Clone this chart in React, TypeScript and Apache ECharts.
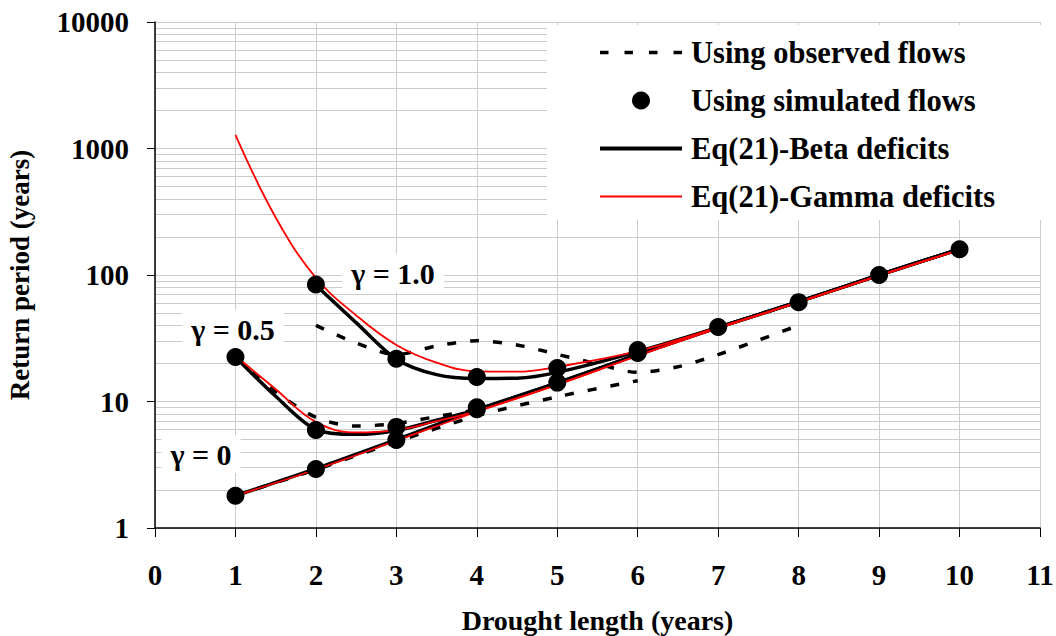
import React, { useEffect, useRef } from "react";
import * as echarts from "echarts";

const FONT = "'Liberation Serif', 'Times New Roman', serif";

// Observed flows (dashed)
const obsG0: [number, number][] = [[1, 1.8], [2, 2.9], [3, 4.8], [4, 7.7], [5, 10.9], [6, 14.6]];
const obsG05: [number, number][] = [[1, 22.5], [1.5, 12], [2, 7.5], [2.5, 6.4], [3, 6.7], [3.5, 7.6], [4, 8.6]];
const obsG1: [number, number][] = [[2, 40], [2.5, 29], [3, 23.5], [3.5, 27.5], [4, 30.2], [4.5, 28], [5, 23.6], [5.5, 19.8], [6, 17], [6.5, 18.8], [7, 23.5], [7.5, 30.5], [8, 40]];

// Simulated flows (dots)
const simPoints: [number, number][] = [
  [1, 1.8], [2, 2.93], [3, 4.96], [4, 8.7], [5, 14.1], [6, 24.2], [7, 38.8], [8, 61], [9, 100], [10, 160],
  [1, 22.5], [2, 5.95], [3, 6.3], [4, 9.0],
  [2, 84], [3, 21.8], [4, 15.6], [5, 18.4], [6, 25.5],
];

// Eq(21) - Beta deficits (thick black)
const betaG0: [number, number][] = [[1, 1.8], [2, 2.95], [3, 5.0], [4, 8.6], [5, 14.0], [6, 23.5], [7, 38.5], [8, 61.5], [9, 100], [10, 160]];
const betaG05: [number, number][] = [[1, 22.5], [1.5, 11], [2, 6.0], [2.5, 5.5], [3, 5.9], [3.5, 7.1], [4, 8.6], [5, 14.0], [6, 23.5], [7, 38.5], [8, 61.5], [9, 100], [10, 160]];
const betaG1: [number, number][] = [[2, 83], [2.5, 42], [3, 21.6], [3.5, 16.3], [4, 15.2], [4.5, 15.3], [5, 17], [6, 24.8], [7, 38.5], [8, 61.5], [9, 100], [10, 160]];

// Eq(21) - Gamma deficits (thin red)
const gammaG0: [number, number][] = [[1, 1.8], [2, 2.9], [3, 4.9], [4, 8.3], [5, 13.6], [6, 23], [7, 38], [8, 61], [9, 99], [10, 158]];
const gammaG05: [number, number][] = [[1, 23], [1.5, 12.5], [2, 6.9], [2.5, 5.7], [3, 5.95], [3.5, 7.0], [4, 8.4], [5, 13.6], [6, 23], [7, 38], [8, 61], [9, 99], [10, 158]];
const gammaG1: [number, number][] = [[1, 1280], [1.5, 285], [2, 95], [2.5, 48], [3, 28], [3.5, 20.3], [4, 17.3], [4.5, 17.2], [5, 18.8], [6, 25], [7, 38.5], [8, 61], [9, 99], [10, 158]];

// Minor log gridlines
const minorGrid: number[] = [
  2, 3, 4, 5, 6, 7, 8, 9,
  20, 30, 40, 50, 60, 70, 80, 90,
  200, 300, 400, 500, 600, 700, 800, 900,
  2000, 3000, 4000, 5000, 6000, 7000, 8000, 9000,
];

const gammaLabels = [
  { text: "γ = 1.0", x: 393, y: 273 },
  { text: "γ = 0.5", x: 233, y: 329 },
  { text: "γ = 0", x: 201, y: 454 },
];

const OBS = "Using observed flows";
const SIM = "Using simulated flows";
const BETA = "Eq(21)-Beta deficits";
const GAMMA = "Eq(21)-Gamma deficits";

export default function App() {
  const ref = useRef<HTMLDivElement>(null);
  useEffect(() => {
    if (!ref.current) return;
    const chart = echarts.init(ref.current, null, { renderer: "svg" });
    const obsStyle = { color: "#000", width: 3.5, type: [9, 14] };
    const mkLine = (name: string, data: [number, number][], lineStyle: any, z: number, smooth: number) => ({
      name,
      type: "line",
      data,
      symbol: "none",
      smooth,
      z,
      lineStyle,
      itemStyle: { color: lineStyle.color },
      emphasis: { disabled: true },
      silent: true,
    });
    const beta = { color: "#000", width: 3.5 };
    const gamma = { color: "#ff0000", width: 1.8 };
    const noSym = { opacity: 0, borderWidth: 0 };
    chart.setOption({
      animation: false,
      backgroundColor: "#fff",
      textStyle: { fontFamily: FONT },
      grid: { left: 155, right: 16, top: 22, bottom: 108, containLabel: false, outerBoundsMode: "none" },
      xAxis: {
        type: "value",
        min: 0,
        max: 11,
        interval: 1,
        name: "Drought length (years)",
        nameLocation: "middle",
        nameGap: 78,
        nameTextStyle: { fontFamily: FONT, fontWeight: "bold", fontSize: 28, color: "#000" },
        axisLine: { onZero: false, lineStyle: { color: "#000", width: 1.5 } },
        axisTick: { show: true, inside: false, length: 9, lineStyle: { color: "#000", width: 1 } },
        axisLabel: { fontFamily: FONT, fontWeight: "bold", fontSize: 29, color: "#000", margin: 32 },
        splitLine: { show: true, lineStyle: { color: "#cccccc", width: 1 } },
      },
      yAxis: {
        type: "log",
        logBase: 10,
        min: 1,
        max: 10000,
        name: "Return period (years)",
        nameLocation: "middle",
        nameRotate: 90,
        nameGap: 122,
        nameTextStyle: { fontFamily: FONT, fontWeight: "bold", fontSize: 27, color: "#000" },
        axisLine: { show: true, onZero: false, lineStyle: { color: "#000", width: 1.5 } },
        axisTick: { show: true, inside: false, length: 8, lineStyle: { color: "#000", width: 1 } },
        axisLabel: {
          fontFamily: FONT,
          fontWeight: "bold",
          fontSize: 29,
          color: "#000",
          margin: 26,
          formatter: (v: number) => String(Math.round(v)),
        },
        splitLine: { show: true, lineStyle: { color: "#cccccc", width: 1 } },
        minorTick: { show: false },
        minorSplitLine: { show: false },
      },
      legend: {
        orient: "vertical",
        left: 547,
        top: 25,
        z: 10,
        padding: [12, 46, 8, 51],
        backgroundColor: "#fff",
        itemWidth: 82,
        itemHeight: 18,
        itemGap: 17,
        selectedMode: false,
        data: [
          { name: OBS, itemStyle: noSym, lineStyle: { width: 3.5, type: [8.5, 16] } },
          { name: SIM },
          { name: BETA, itemStyle: noSym, lineStyle: { width: 4 } },
          { name: GAMMA, itemStyle: noSym, lineStyle: { width: 2 } },
        ],
        textStyle: { fontFamily: FONT, fontWeight: "bold", fontSize: 30.5, color: "#000", lineHeight: 30, padding: [0, 0, 0, 4] },
      },
      graphic: gammaLabels.map((g) => ({
        type: "text",
        x: g.x,
        y: g.y,
        z: 1,
        silent: true,
        style: {
          text: g.text,
          font: `bold 30px ${FONT}`,
          fill: "#000",
          align: "center",
          verticalAlign: "middle",
          backgroundColor: "#fff",
          padding: [4, 9],
        },
      })),
      series: [
        {
          name: "gridlines",
          type: "line",
          data: [[0, 1]],
          symbol: "none",
          z: 0,
          silent: true,
          lineStyle: { opacity: 0 },
          markLine: {
            z: 0,
            silent: true,
            symbol: ["none", "none"],
            label: { show: false },
            lineStyle: { color: "#cccccc", width: 1, type: "solid" },
            emphasis: { disabled: true },
            data: minorGrid.map((v) => ({ yAxis: v })),
          },
        },
        mkLine(OBS, obsG0, obsStyle, 2, 0.3),
        mkLine(OBS, obsG05, obsStyle, 2, 0.3),
        mkLine(OBS, obsG1, obsStyle, 2, 0.3),
        mkLine(BETA, betaG0, beta, 3, 0.3),
        mkLine(BETA, betaG05, beta, 3, 0.3),
        mkLine(BETA, betaG1, beta, 3, 0.3),
        mkLine(GAMMA, gammaG0, gamma, 4, 0.4),
        mkLine(GAMMA, gammaG05, gamma, 4, 0.4),
        mkLine(GAMMA, gammaG1, gamma, 4, 0.4),
        {
          name: SIM,
          type: "scatter",
          data: simPoints,
          symbol: "circle",
          symbolSize: 18,
          z: 5,
          silent: true,
          itemStyle: { color: "#000", opacity: 1 },
        },
      ],
    });
    return () => chart.dispose();
  }, []);
  return <div ref={ref} style={{ position: "fixed", left: 0, top: 0, width: 1056, height: 636 }} />;
}
